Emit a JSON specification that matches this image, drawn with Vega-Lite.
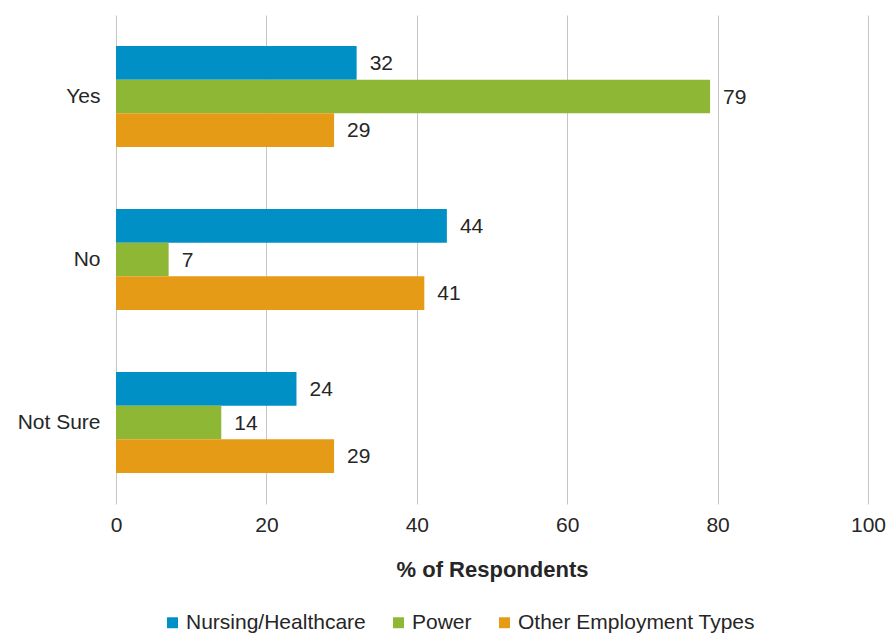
{
  "$schema": "https://vega.github.io/schema/vega-lite/v6.json",
  "width": 752,
  "height": 489,
  "autosize": {"type": "none"},
  "padding": {"left": 116, "top": 15, "right": 21, "bottom": 129},
  "background": "white",
  "config": {
    "font": "Liberation Sans",
    "view": {"stroke": null},
    "axis": {"labelFont": "Liberation Sans", "titleFont": "Liberation Sans"},
    "legend": {"labelFont": "Liberation Sans"}
  },
  "data": {
    "values": [
      {"answer": "Yes", "group": "Nursing/Healthcare", "value": 32},
      {"answer": "Yes", "group": "Power", "value": 79},
      {"answer": "Yes", "group": "Other Employment Types", "value": 29},
      {"answer": "No", "group": "Nursing/Healthcare", "value": 44},
      {"answer": "No", "group": "Power", "value": 7},
      {"answer": "No", "group": "Other Employment Types", "value": 41},
      {"answer": "Not Sure", "group": "Nursing/Healthcare", "value": 24},
      {"answer": "Not Sure", "group": "Power", "value": 14},
      {"answer": "Not Sure", "group": "Other Employment Types", "value": 29}
    ]
  },
  "encoding": {
    "y": {
      "field": "answer",
      "type": "nominal",
      "sort": ["Yes", "No", "Not Sure"],
      "scale": {"paddingInner": 0.38, "paddingOuter": 0.19},
      "axis": {
        "title": null,
        "domain": false,
        "ticks": false,
        "labelFontSize": 21,
        "labelColor": "#262626",
        "labelPadding": 16,
        "labelLimit": 0
      }
    },
    "yOffset": {
      "field": "group",
      "type": "nominal",
      "sort": ["Nursing/Healthcare", "Power", "Other Employment Types"],
      "scale": {"paddingInner": 0, "paddingOuter": 0}
    },
    "x": {
      "field": "value",
      "type": "quantitative",
      "scale": {"domain": [0, 100], "nice": false},
      "axis": {
        "title": "% of Respondents",
        "values": [0, 20, 40, 60, 80, 100],
        "domain": false,
        "ticks": false,
        "grid": true,
        "gridColor": "#c6c6c6",
        "gridWidth": 1,
        "labelFlush": false,
        "labelOverlap": false,
        "labelFontSize": 21,
        "labelColor": "#262626",
        "labelPadding": 10,
        "titleFontSize": 22,
        "titleFontWeight": "bold",
        "titleColor": "#262626",
        "titlePadding": 24
      }
    }
  },
  "layer": [
    {
      "mark": {"type": "bar"},
      "encoding": {
        "color": {
          "field": "group",
          "type": "nominal",
          "sort": ["Nursing/Healthcare", "Power", "Other Employment Types"],
          "scale": {
            "domain": ["Nursing/Healthcare", "Power", "Other Employment Types"],
            "range": ["#0090c5", "#8fb736", "#e69b17"]
          },
          "legend": {
            "title": null,
            "orient": "none",
            "direction": "horizontal",
            "legendX": 46,
            "legendY": 597,
            "symbolType": "square",
            "symbolSize": 120,
            "symbolStrokeWidth": 0,
            "labelFontSize": 21,
            "labelColor": "#262626",
            "labelOffset": 3,
            "labelLimit": 0,
            "columnPadding": 22,
            "padding": 0
          }
        }
      }
    },
    {
      "mark": {
        "type": "text",
        "align": "left",
        "baseline": "middle",
        "dx": 13,
        "dy": 1,
        "fontSize": 21,
        "color": "#262626"
      },
      "encoding": {
        "text": {"field": "value", "type": "quantitative"}
      }
    }
  ]
}
